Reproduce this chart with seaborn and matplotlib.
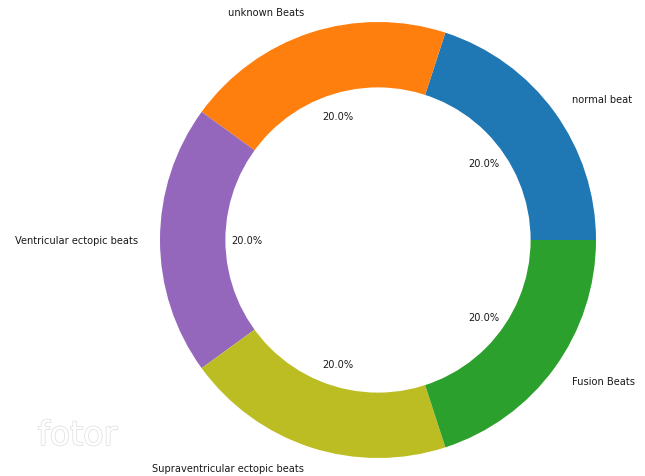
import matplotlib
matplotlib.use("Agg")
import matplotlib.pyplot as plt
import matplotlib.patheffects as pe
import seaborn as sns

# Heartbeat classes and their share of the dataset
categories = ["normal beat", "unknown Beats", "Ventricular ectopic beats",
              "Supraventricular ectopic beats", "Fusion Beats"]
counts = [20, 20, 20, 20, 20]

sns.set_theme(style="white")
plt.rcParams["font.family"] = ["DejaVu Sans"]

tab = sns.color_palette("tab10")
colors = [tab[0], tab[1], tab[4], tab[8], tab[2]]

fig = plt.figure(figsize=(6.45, 4.77), dpi=100)
ax = fig.add_axes([0, 0, 1, 1])

ax.pie(counts, labels=categories, colors=colors, autopct="%1.1f%%",
       startangle=0, pctdistance=0.6, labeldistance=1.1,
       wedgeprops={"linewidth": 0, "edgecolor": "none"},
       textprops={"fontsize": 7.1, "color": "#1a1a1a"})

# Hole in the middle turns the pie into a ring
ax.add_artist(plt.Circle((0, 0), 0.70, fc="white", ec="none"))

# Place the ring inside the canvas (1 unit ~ 218 px)
scale = 218.0
cx, cy = 378.0, 477.0 - 241.0
ax.set_xlim(-cx / scale, (645.0 - cx) / scale)
ax.set_ylim(-cy / scale, (477.0 - cy) / scale)
ax.set_aspect("equal")
ax.axis("off")

fig.text(38 / 645, 1 - 446 / 477, "fotor", fontsize=24, color="white",
         family=["DejaVu Sans"],
         path_effects=[pe.withStroke(linewidth=1.2, foreground="#e2e2e2")])

fig.savefig("out.png", dpi=100)
